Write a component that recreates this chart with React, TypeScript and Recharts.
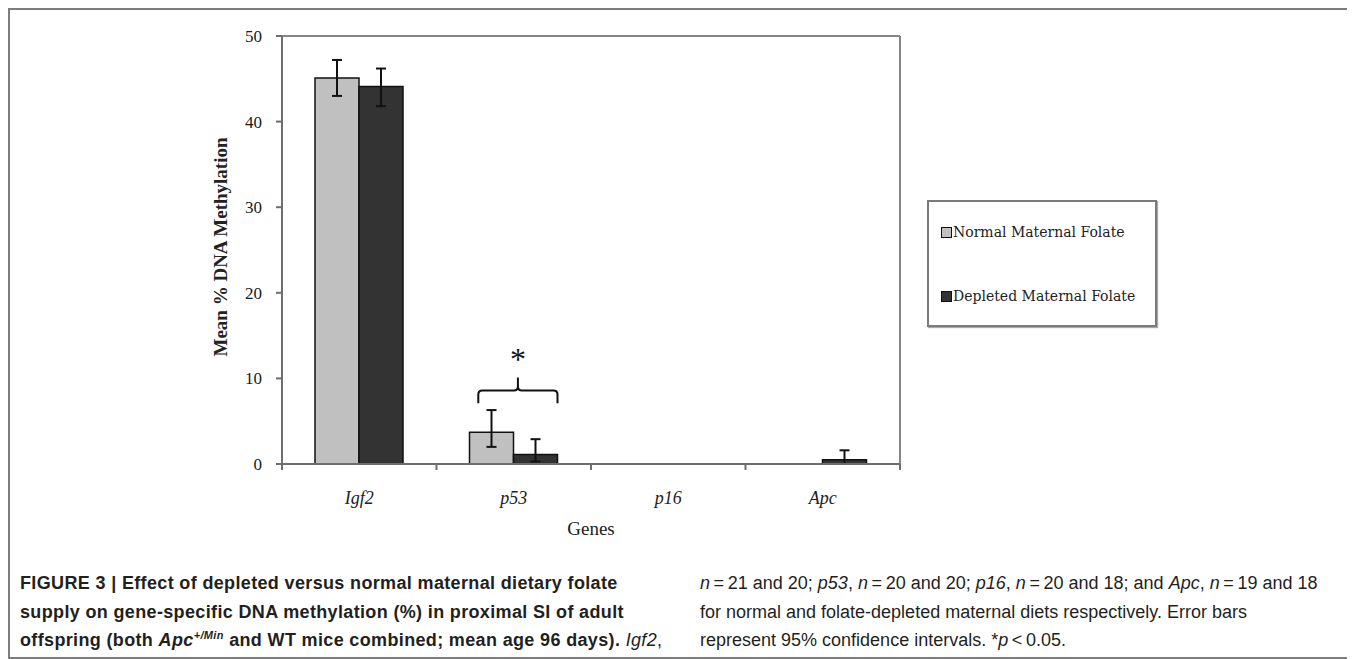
import React from "react";
import { Bar, BarChart, XAxis, YAxis, ErrorBar, Legend, LabelList } from "recharts";

// values (mean % methylation, 95% CI as [below, above])
const genes = ["Igf2", "p53", "p16", "Apc"];
const normalFolate = [45.1, 3.7, 0, 0];
const normalCI = [[2.1, 2.1], [1.7, 2.6], null, null];
const depletedFolate = [44.1, 1.1, 0, 0.5];
const depletedCI = [[2.3, 2.1], [0.8, 1.8], null, [0.5, 1.1]];
const yTicks = [0, 10, 20, 30, 40, 50];
const seriesNames = ["Normal Maternal Folate", "Depleted Maternal Folate"];

// significance bracket over p53 (in y units)
const bracketGene = "p53";
const bracketEnd = 7.1;
const bracketBar = 8.6;
const bracketTip = 10.1;
const starLevel = 12.5;

const COLORS = {
    normal: "#c0c0c0",
    depleted: "#333333",
    axis: "#6e6e6e",
    frame: "#858585",
};

const SERIF = "'Liberation Serif', 'Times New Roman', serif";

const data = genes.map((gene, i) => ({
    gene,
    normal: normalFolate[i],
    normalCI: normalCI[i],
    depleted: depletedFolate[i],
    depletedCI: depletedCI[i],
}));

function GeneTick(props: any) {
    const { x, y, payload, index } = props;
    const half = payload.offset || 0;
    return (
        <g>
            <line x1={x - half} y1={y} x2={x - half} y2={y + 6} stroke={COLORS.axis} strokeWidth={2} />
            {index === genes.length - 1 && (
                <line x1={x + half} y1={y} x2={x + half} y2={y + 6} stroke={COLORS.axis} strokeWidth={2} />
            )}
            <text x={x} y={y + 40} textAnchor="middle" fontFamily={SERIF} fontStyle="italic" fontSize={18} fill="#222">
                {payload.value}
            </text>
        </g>
    );
}

function Bracket(props: any) {
    const vb = props.viewBox || {};
    const x = Number(props.x ?? vb.x);
    const y = Number(props.y ?? vb.y);
    const width = Number(props.width ?? vb.width);
    const height = Number(props.height ?? vb.height);
    const value = Number(props.value);
    if (genes[props.index] !== bracketGene || !value) return null;
    const perUnit = height / value;
    const base = y + height;
    const lv = (v: number) => base - v * perUnit;
    const L = x + width * 0.2;
    const R = x + width * 2;
    const C = (L + R) / 2;
    const yb = lv(bracketEnd);
    const yh = lv(bracketBar);
    const yt = lv(bracketTip);
    const r = 4;
    const d = `M${L},${yb} L${L},${yh + r} Q${L},${yh} ${L + r},${yh} L${C - r},${yh} Q${C},${yh} ${C},${yh - r} L${C},${yt}
      M${C},${yh - r} Q${C},${yh} ${C + r},${yh} L${R - r},${yh} Q${R},${yh} ${R},${yh + r} L${R},${yb}`;
    return (
        <g>
            <path d={d} fill="none" stroke="#111" strokeWidth={2} />
            <text x={C} y={lv(starLevel) + 13} textAnchor="middle" fontFamily={SERIF} fontSize={32} fill="#111">
                *
            </text>
        </g>
    );
}

function LegendBox(props: any) {
    const items = [...(props.payload || [])].sort(
        (a: any, b: any) => seriesNames.indexOf(a.value) - seriesNames.indexOf(b.value)
    );
    return (
        <div
            style={{
                boxSizing: "border-box",
                width: 230,
                height: 127,
                border: "2px solid #7a7a7a",
                boxShadow: "1px 1px 1px #aaa",
                background: "#fff",
                fontFamily: "'DejaVu Serif', serif",
                fontSize: 14,
                color: "#222",
                paddingTop: 21,
                paddingLeft: 12,
            }}
        >
            {items.map((item: any, i: number) => (
                <div key={item.value} style={{ display: "flex", alignItems: "center", height: 18, marginTop: i ? 46 : 0 }}>
                    <span
                        style={{
                            display: "inline-block",
                            boxSizing: "border-box",
                            width: 11,
                            height: 11,
                            border: "1.5px solid #111",
                            background: item.color,
                            marginRight: 1,
                        }}
                    />
                    <span>{item.value}</span>
                </div>
            ))}
        </div>
    );
}

export default function App() {
    return (
        <div
            style={{
                position: "relative",
                boxSizing: "border-box",
                width: 1345,
                height: 651,
                border: "2px solid #7d7d7d",
                background: "#fff",
            }}
        >
            <BarChart
                width={1335}
                height={540}
                data={data}
                barSize={44}
                barGap={0}
                margin={{ top: 25, right: 444, left: 212, bottom: 85 }}
            >
                <XAxis xAxisId="top" orientation="top" dataKey="gene" height={1} tick={false} tickLine={false} axisLine={{ stroke: COLORS.frame, strokeWidth: 2 }} />
                <YAxis yAxisId="right" orientation="right" width={1} domain={[0, 50]} tick={false} tickLine={false} axisLine={{ stroke: COLORS.frame, strokeWidth: 2 }} />
                <XAxis
                    dataKey="gene"
                    height={1}
                    interval={0}
                    tickSize={0}
                    tickMargin={0}
                    tickLine={false}
                    axisLine={{ stroke: COLORS.axis, strokeWidth: 2 }}
                    tick={<GeneTick />}
                    label={{
                        content: (p: any) => (
                            <text
                                x={p.viewBox.x + p.viewBox.width / 2}
                                y={p.viewBox.y + 71}
                                textAnchor="middle"
                                fontFamily={SERIF}
                                fontSize={19}
                                fill="#222"
                            >
                                Genes
                            </text>
                        ),
                    }}
                />
                <YAxis
                    width={60}
                    domain={[0, 50]}
                    ticks={yTicks}
                    interval={0}
                    tickSize={6}
                    tickMargin={14}
                    axisLine={{ stroke: COLORS.axis, strokeWidth: 2 }}
                    tickLine={{ stroke: COLORS.axis, strokeWidth: 2 }}
                    tick={{ fontFamily: SERIF, fontSize: 17, fill: "#1a1a1a" }}
                    label={{
                        content: (p: any) => {
                            const cx = p.viewBox.x - 2;
                            const cy = p.viewBox.y + p.viewBox.height / 2 - 3;
                            return (
                                <text
                                    x={cx}
                                    y={cy}
                                    transform={`rotate(-90 ${cx} ${cy})`}
                                    textAnchor="middle"
                                    dominantBaseline="central"
                                    fontFamily={SERIF}
                                    fontWeight="bold"
                                    fontSize={19}
                                    fill="#222"
                                >
                                    Mean % DNA Methylation
                                </text>
                            );
                        },
                    }}
                />
                <Legend
                    layout="horizontal"
                    verticalAlign="middle"
                    align="center"
                    content={<LegendBox />}
                    wrapperStyle={{ left: 917, top: 190, width: 230, height: 127 }}
                />
                <Bar dataKey="normal" name={seriesNames[0]} fill={COLORS.normal} stroke="#111" strokeWidth={1.5} isAnimationActive={false}>
                    <ErrorBar dataKey="normalCI" width={5} stroke="#111" strokeWidth={2} />
                    <LabelList dataKey="normal" content={<Bracket />} />
                </Bar>
                <Bar dataKey="depleted" name={seriesNames[1]} fill={COLORS.depleted} stroke="#111" strokeWidth={1.5} isAnimationActive={false}>
                    <ErrorBar dataKey="depletedCI" width={5} stroke="#111" strokeWidth={2} />
                </Bar>
            </BarChart>

            <div
                style={{
                    position: "absolute",
                    left: 10,
                    top: 559,
                    fontFamily: "'Liberation Sans', Arial, sans-serif",
                    fontSize: 18,
                    lineHeight: "28.5px",
                    fontWeight: "bold",
                    letterSpacing: 0.35,
                    color: "#231f20",
                    whiteSpace: "nowrap",
                }}
            >
                <div>FIGURE 3 | Effect of depleted versus normal maternal dietary folate</div>
                <div>supply on gene-specific DNA methylation (%) in proximal SI of adult</div>
                <div>
                    offspring (both <i>Apc</i>
                    <sup style={{ fontSize: 11, lineHeight: 0 }}>
                        <i>+/Min</i>
                    </sup>{" "}
                    and WT mice combined; mean age 96 days).{" "}
                    <span style={{ fontWeight: "normal" }}>
                        <i>Igf2</i>,
                    </span>
                </div>
            </div>
            <div
                style={{
                    position: "absolute",
                    left: 690,
                    top: 559,
                    fontFamily: "'Liberation Sans', Arial, sans-serif",
                    fontSize: 18,
                    lineHeight: "28.5px",
                    color: "#231f20",
                    whiteSpace: "nowrap",
                }}
            >
                <div>
                    <i>n</i>&thinsp;=&thinsp;21 and 20; <i>p53</i>, <i>n</i>&thinsp;=&thinsp;20 and 20; <i>p16</i>, <i>n</i>&thinsp;=&thinsp;20 and 18; and <i>Apc</i>, <i>n</i>&thinsp;=&thinsp;19 and 18
                </div>
                <div>for normal and folate-depleted maternal diets respectively. Error bars</div>
                <div>
                    represent 95% confidence intervals. *<i>p</i>&thinsp;&lt;&thinsp;0.05.
                </div>
            </div>
        </div>
    );
}
